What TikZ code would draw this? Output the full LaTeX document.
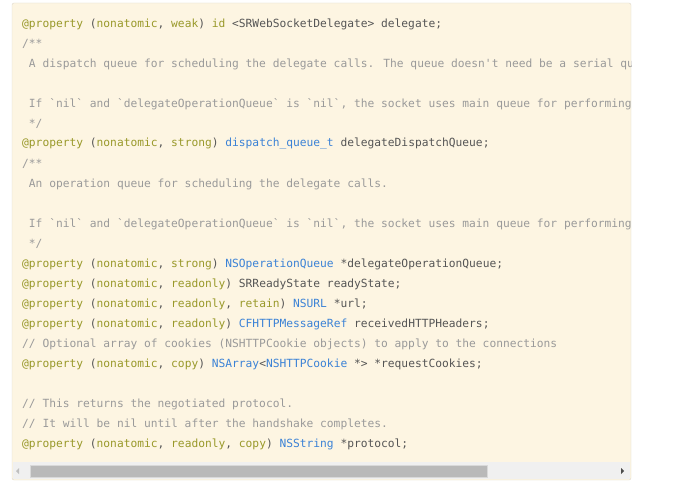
\documentclass[tikz,border=0pt]{standalone}
\usepackage{fontspec}
\newfontfamily\codefont{DejaVu Sans Mono}
\definecolor{codebg}{HTML}{FDF5E2}
\definecolor{codeframe}{HTML}{DDD8CC}
\definecolor{kwcol}{HTML}{99992A}
\definecolor{tycol}{HTML}{3B82D6}
\definecolor{cmcol}{HTML}{9A9A9A}
\definecolor{txcol}{HTML}{555555}
\newcommand{\kw}[1]{\textcolor{kwcol}{#1}}
\newcommand{\ty}[1]{\textcolor{tycol}{#1}}
\newcommand{\cm}[1]{\textcolor{cmcol}{#1}}
\begin{document}
\begin{tikzpicture}[x=1pt,y=-1pt,
  codeline/.style={anchor=west,inner sep=0pt,text=txcol,font=\codefont\fontsize{11.25}{12}\selectfont}]
\useasboundingbox (0,0) rectangle (675,492);
\draw [codeframe, fill=codebg, rounded corners=2pt] (12,3) rectangle (631,480);
\begin{scope}
\clip (12,3) rectangle (631,480);
\node [codeline] (l1) at (22,24) {\kw{@property} (\kw{nonatomic}, \kw{weak}) \kw{id} <SRWebSocketDelegate> delegate;};
\node [codeline] (l2) at (22,44) {\cm{/**}};
\node [codeline] (l3) at (22,64) {\cm{\ A dispatch queue for scheduling the delegate calls. The queue doesn't need be a serial queue.}};
\node [codeline] (l5) at (22,104) {\cm{\ If `nil` and `delegateOperationQueue` is `nil`, the socket uses main queue for performing all}};
\node [codeline] (l6) at (22,124) {\cm{\ */}};
\node [codeline] (l7) at (22,144) {\kw{@property} (\kw{nonatomic}, \kw{strong}) \ty{dispatch\_queue\_t} delegateDispatchQueue;};
\node [codeline] (l8) at (22,164) {\cm{/**}};
\node [codeline] (l9) at (22,184) {\cm{\ An operation queue for scheduling the delegate calls.}};
\node [codeline] (l11) at (22,224) {\cm{\ If `nil` and `delegateOperationQueue` is `nil`, the socket uses main queue for performing all}};
\node [codeline] (l12) at (22,244) {\cm{\ */}};
\node [codeline] (l13) at (22,264) {\kw{@property} (\kw{nonatomic}, \kw{strong}) \ty{NSOperationQueue} *delegateOperationQueue;};
\node [codeline] (l14) at (22,284) {\kw{@property} (\kw{nonatomic}, \kw{readonly}) SRReadyState readyState;};
\node [codeline] (l15) at (22,304) {\kw{@property} (\kw{nonatomic}, \kw{readonly}, \kw{retain}) \ty{NSURL} *url;};
\node [codeline] (l16) at (22,324) {\kw{@property} (\kw{nonatomic}, \kw{readonly}) \ty{CFHTTPMessageRef} receivedHTTPHeaders;};
\node [codeline] (l17) at (22,344) {\cm{// Optional array of cookies (NSHTTPCookie objects) to apply to the connections}};
\node [codeline] (l18) at (22,364) {\kw{@property} (\kw{nonatomic}, \kw{copy}) \ty{NSArray}<\ty{NSHTTPCookie} *> *requestCookies;};
\node [codeline] (l20) at (22,404) {\cm{// This returns the negotiated protocol.}};
\node [codeline] (l21) at (22,424) {\cm{// It will be nil until after the handshake completes.}};
\node [codeline] (l22) at (22,444) {\kw{@property} (\kw{nonatomic}, \kw{readonly}, \kw{copy}) \ty{NSString} *protocol;};
% scroll bar
\fill [gray!12] (13,462) rectangle (630,479);
\fill [gray!55] (30,465) rectangle (487,477);
\draw [gray!30] (30,465) rectangle (487,477);
\fill [gray!50] (19,468) -- (19,474) -- (16,471) -- cycle;
\fill [black!70] (621,468) -- (621,474) -- (624,471) -- cycle;
\end{scope}
\end{tikzpicture}
\end{document}
